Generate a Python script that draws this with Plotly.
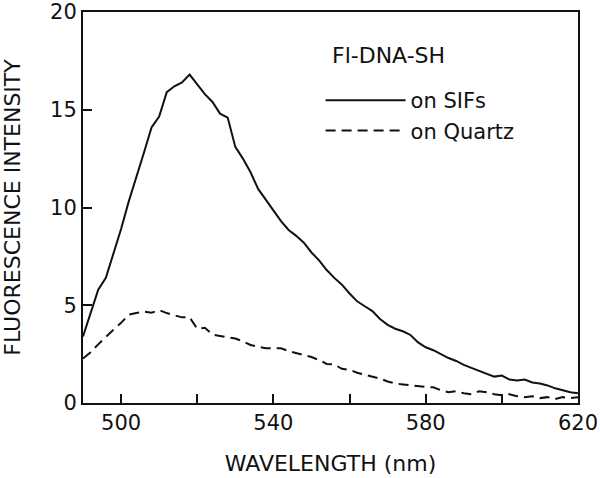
import plotly.graph_objects as go

# wavelength grid (nm) at 2 nm steps
wavelength = list(range(490, 622, 2))

# fluorescence on silver island films
sifs = [3.4, 4.6, 5.8, 6.4, 7.6, 8.9, 10.3, 11.5, 12.8, 14.1,
        14.65, 15.9, 16.2, 16.4, 16.8, 16.3, 15.8, 15.4, 14.8, 14.6,
        13.1, 12.5, 11.8, 10.95, 10.4, 9.9, 9.3, 8.85, 8.55, 8.2,
        7.7, 7.3, 6.8, 6.4, 6.05, 5.6, 5.2, 4.95, 4.7, 4.3,
        4.0, 3.8, 3.67, 3.48, 3.1, 2.85, 2.7, 2.5, 2.3, 2.15,
        1.95, 1.8, 1.65, 1.5, 1.35, 1.4, 1.2, 1.15, 1.2, 1.05,
        1.0, 0.9, 0.75, 0.65, 0.55, 0.5]

# fluorescence on quartz
quartz = [2.28, 2.6, 3.0, 3.4, 3.75, 4.1, 4.52, 4.6, 4.67, 4.62,
          4.75, 4.6, 4.5, 4.38, 4.38, 3.8, 3.85, 3.5, 3.43, 3.38,
          3.3, 3.15, 2.97, 2.88, 2.8, 2.8, 2.8, 2.65, 2.55, 2.45,
          2.35, 2.2, 2.0, 1.97, 1.75, 1.7, 1.55, 1.45, 1.35, 1.25,
          1.1, 1.0, 0.95, 0.9, 0.85, 0.82, 0.8, 0.65, 0.55, 0.6,
          0.5, 0.45, 0.6, 0.55, 0.45, 0.4, 0.45, 0.35, 0.3, 0.35,
          0.25, 0.3, 0.2, 0.3, 0.25, 0.3]

x_ticks = [500, 540, 580, 620]
y_ticks = [0, 5, 10, 15, 20]

FONT = "DejaVu Sans"
INK = "#111111"

fig = go.Figure()
fig.add_trace(go.Scatter(x=wavelength, y=sifs, mode="lines", name="on SIFs",
                         line=dict(color=INK, width=2)))
fig.add_trace(go.Scatter(x=wavelength, y=quartz, mode="lines", name="on Quartz",
                         line=dict(color=INK, width=2, dash="10px,6px")))

axis_common = dict(
    showline=True, mirror=True, linecolor=INK, linewidth=2,
    ticks="inside", ticklen=9, tickwidth=1.5, tickcolor=INK,
    showgrid=False, zeroline=False, automargin=False,
    ticklabeloverflow="allow",
    tickfont=dict(family=FONT, size=21, color=INK),
)

fig.update_layout(
    width=600, height=478,
    margin=dict(l=83, r=22, t=12, b=75, autoexpand=False),
    plot_bgcolor="white", paper_bgcolor="white",
    font=dict(family=FONT, color=INK),
    legend=dict(
        x=0.48, y=0.826, xanchor="left", yanchor="top",
        bgcolor="rgba(0,0,0,0)",
        font=dict(family=FONT, size=21),
        itemwidth=80, tracegroupgap=0,
    ),
    annotations=[dict(
        text="Fl-DNA-SH", xref="paper", yref="paper", x=0.499, y=0.89,
        xanchor="left", yanchor="middle", showarrow=False,
        font=dict(family=FONT, size=22, color=INK),
    )],
    xaxis=dict(
        range=[490, 620], tickvals=x_ticks,
        minor=dict(dtick=20, tick0=500, ticks="inside", ticklen=9, tickcolor=INK, tickwidth=1.5),
        title=dict(text="WAVELENGTH (nm)", font=dict(family=FONT, size=22), standoff=21),
        **axis_common,
    ),
    yaxis=dict(
        range=[0, 20], tickvals=y_ticks,
        title=dict(text="FLUORESCENCE INTENSITY", font=dict(family=FONT, size=22), standoff=30),
        **axis_common,
    ),
)

# drop the default 8px page margin so the figure sits at the window corner
fig.write_html("out.html", config={"displayModeBar": False},
               post_script="document.body.style.margin = '0px';")
